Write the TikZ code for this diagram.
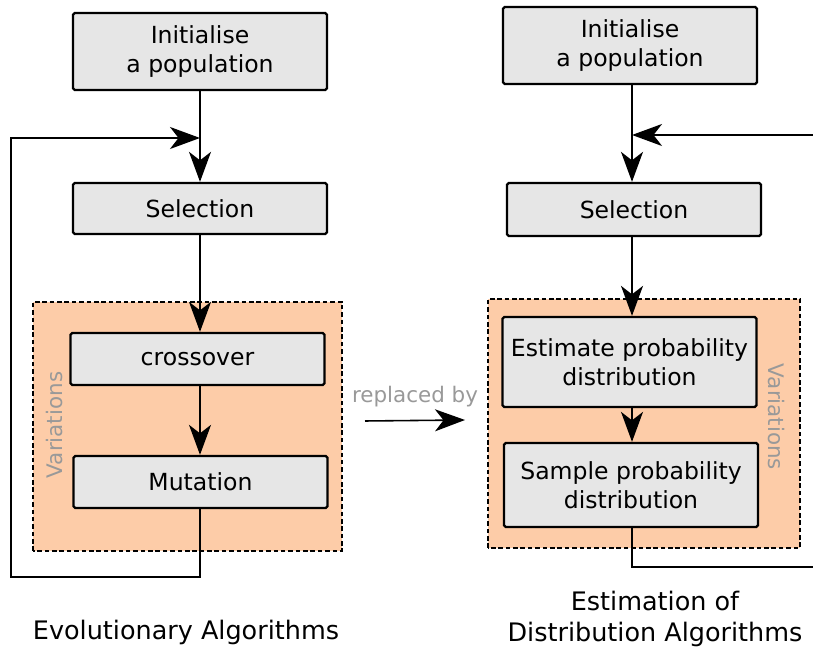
\documentclass[tikz,border=0pt]{standalone}
\usepackage{fontspec}
\setmainfont{DejaVu Sans}
\usetikzlibrary{arrows.meta}

\definecolor{boxgray}{HTML}{E6E6E6}
\definecolor{peach}{HTML}{FDCCA8}
\definecolor{labelgray}{HTML}{999999}

\tikzset{
   stepbox/.style={draw=black,fill=boxgray,line width=1.3pt,rounded corners=1pt,
      minimum width=5.08cm,align=center,font=\fontsize{13.4}{16.5}\selectfont},
   varbox/.style={draw=black,fill=peach,line width=0.6pt,dash pattern=on 2.6pt off 1.6pt},
   varlabel/.style={text=labelgray,font=\fontsize{12.2}{15}\selectfont},
   flow/.style={line width=0.9pt,-{Stealth[length=0.6cm,width=0.44cm,inset=0.17cm]}},
   caption/.style={align=center,font=\fontsize{14.5}{17.6}\selectfont}
}

\begin{document}
\begin{tikzpicture}

   \clip (0,0) rectangle (16.26,13);
   \fill[white] (0,0) rectangle (16.26,13);

   \draw[varbox] (0.66,1.98) rectangle (6.84,6.96);
   \node[stepbox,minimum height=1.54cm] (initL) at (4.0,11.97) {Initialise\\a population};
   \node[stepbox,minimum height=1.02cm] (selL) at (4.0,8.83) {Selection};
   \node[stepbox,minimum height=1.04cm] (cross) at (3.95,5.82) {crossover};
   \node[stepbox,minimum height=1.04cm] (mut) at (4.01,3.36) {Mutation};
   \node[varlabel,rotate=90] (varL) at (1.1,4.5) {Variations};
   \node[caption] (capL) at (3.72,0.36) {Evolutionary Algorithms};
   \coordinate (joinL) at (4.0,10.24);
   \coordinate (loopL) at (0.22,1.46);
   \draw[flow] (initL.south) -- (selL.north);
   \draw[flow] (selL.south) -- (cross.north -| selL.south);
   \draw[flow] (cross.south -| selL.south) -- (mut.north -| selL.south);
   \draw[flow] (mut.south -| selL.south) |- (loopL) |- (joinL);

   \node[varlabel] (rep) at (8.3,5.06) {replaced by};
   \coordinate (repA) at (7.3,4.58);
   \coordinate (repB) at (9.3,4.6);
   \draw[flow] (repA) -- (repB);

   \draw[varbox] (9.76,2.04) rectangle (16.0,7.02);
   \node[stepbox,minimum height=1.54cm] (initR) at (12.6,12.09) {Initialise\\a population};
   \node[stepbox,minimum height=1.06cm] (selR) at (12.68,8.81) {Selection};
   \node[stepbox,minimum height=1.8cm] (est) at (12.59,5.76) {Estimate probability\\distribution};
   \node[stepbox,minimum height=1.68cm] (samp) at (12.62,3.3) {Sample probability\\distribution};
   \node[varlabel,rotate=-90] (varR) at (15.52,4.66) {Variations};
   \node[caption] (capR) at (13.1,0.62) {Estimation of\\Distribution Algorithms};
   \coordinate (joinR) at (12.64,10.3);
   \coordinate (loopR) at (16.5,1.66);
   \draw[flow] (initR.south -| joinR) -- (selR.north -| joinR);
   \draw[flow] (selR.south -| joinR) -- (est.north -| joinR);
   \draw[flow] (est.south -| joinR) -- (samp.north -| joinR);
   \draw[flow] (samp.south -| joinR) |- (loopR) |- (joinR);

\end{tikzpicture}
\end{document}
